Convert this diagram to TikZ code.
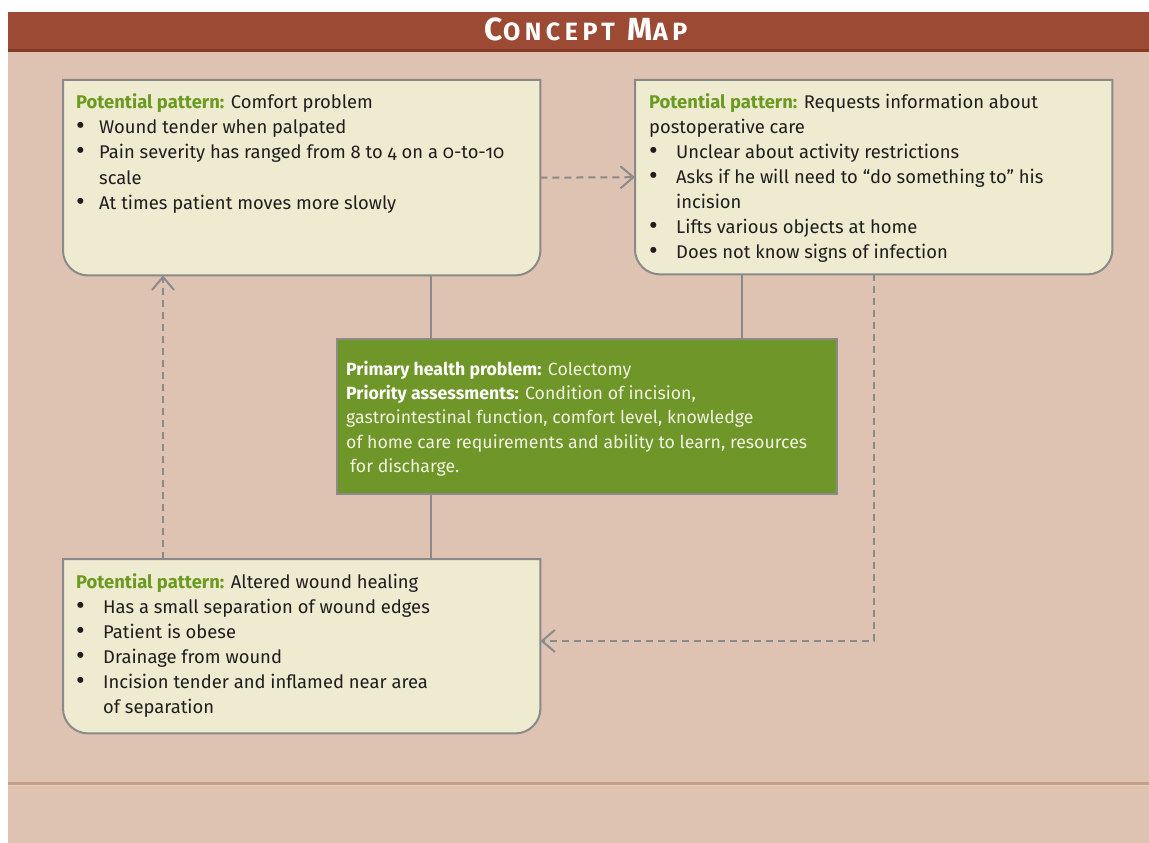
\documentclass[tikz,border=0pt]{standalone}
\usepackage{fontspec}
\setmainfont[Numbers=OldStyle]{Fira Sans}
\newfontfamily\titlefont[LetterSpace=18]{Fira Sans}
\usetikzlibrary{arrows.meta}

\definecolor{pagebg}{HTML}{DEC3B2}
\definecolor{headbar}{HTML}{9C4A33}
\definecolor{headedge}{HTML}{873A25}
\definecolor{cream}{HTML}{EEEBD0}
\definecolor{frame}{HTML}{8A8A8A}
\definecolor{coregreen}{HTML}{6F9628}
\definecolor{labgreen}{HTML}{6B9A20}
\definecolor{ink}{HTML}{1E1E1E}
\definecolor{coretext}{HTML}{F2F2E2}
\definecolor{rule}{HTML}{C6A08D}
\definecolor{rulelight}{HTML}{ECCDB8}

\newlength\bulletgap
\setlength\bulletgap{23pt}
\newcommand\lab[1]{{\bfseries\color{labgreen}#1}}
\newcommand\bigdot{\raisebox{-0.12ex}{\scalebox{1.45}{\textbullet}}}
\newcommand\itm[1]{\makebox[\bulletgap][l]{\bigdot}#1}
\newcommand\cont[1]{\hspace*{\bulletgap}#1}
\newcommand\bottomroundbox[1]{%
  \draw[frame line, fill=cream] (#1.north west) -- (#1.north east)
    -- ([yshift=25pt]#1.south east) arc[start angle=0,end angle=-90,radius=25pt]
    -- ([xshift=25pt]#1.south west) arc[start angle=-90,end angle=-180,radius=25pt]
    -- cycle;}

\tikzset{
  frame line/.style={draw=frame, line width=2pt},
  slot/.style={rectangle, draw=none, inner sep=0pt, anchor=north west},
  bodytext/.style={anchor=north west, inner sep=0pt, align=left, text=ink,
    font=\fontsize{18.4}{25.3}\selectfont},
  link/.style={draw=frame, line width=2pt},
  dlink/.style={draw=frame, line width=2pt, dash pattern=on 7pt off 5pt,
    -{Straight Barb[length=13pt,width=22pt,line width=2pt]}},
}

\begin{document}
\begin{tikzpicture}[x=1pt,y=-1pt]
\useasboundingbox (0,0) rectangle (1149,843);

% page background and header band
\fill[pagebg] (8,12) rectangle (1149,843);
\fill[headbar] (8,12) rectangle (1149,52);
\fill[headedge] (8,49.5) rectangle (1149,52);
\node[text=white, inner sep=0pt, anchor=base] (title) at (586,41)
  {\titlefont\bfseries{\fontsize{32}{32}\selectfont C}{\fontsize{25}{25}\selectfont ONCEPT}\hspace{13pt}{\fontsize{32}{32}\selectfont M}{\fontsize{25}{25}\selectfont AP}};

% footer rule
\fill[rule] (8,782) rectangle (1149,784.5);
\fill[rulelight] (8,784.5) rectangle (1149,785.5);

% frames of the four boxes
\node[slot, minimum width=477pt, minimum height=195pt] (comfort) at (63,80) {};
\node[slot, minimum width=477pt, minimum height=194pt] (teach) at (635,80) {};
\node[slot, minimum width=477pt, minimum height=174pt] (heal) at (63,559) {};
\node[slot, minimum width=500pt, minimum height=155pt, fill=coregreen,
      draw=frame, line width=2pt] (core) at (336,338) {};

\bottomroundbox{comfort}
\bottomroundbox{teach}
\bottomroundbox{heal}

% x positions of the vertical connectors
\coordinate (xL) at (431,0);
\coordinate (xR) at (742,0);
\coordinate (xU) at (163,0);
\coordinate (bend) at (874,641);

% solid links to the central problem
\draw[link] (comfort.south -| xL) -- (core.north -| xL);
\draw[link] (teach.south -| xR) -- (core.north -| xR);
\draw[link] (core.south -| xL) -- (heal.north -| xL);

% dashed relations between patterns
\draw[dlink] (comfort.east) -- (teach.west);
\draw[dlink] (teach.south -| bend) -- (bend) -- (heal.east |- bend);
\draw[dlink] (heal.north -| xU) -- (comfort.south -| xU);

% box texts (first baseline sits one strut below the anchor)
\node[bodytext] (comfortText) at (76,90.3) {%
  \strut\lab{Potential pattern:} Comfort problem\\
  \itm{Wound tender when palpated}\\
  \itm{Pain severity has ranged from 8 to 4 on a 0-to-10}\\
  \cont{scale}\\
  \itm{At times patient moves more slowly}};

\node[bodytext, font=\fontsize{18.4}{25}\selectfont\setlength\bulletgap{27pt}] (teachText) at (649,90.5) {%
  \strut\lab{Potential pattern:} Requests information about\\
  postoperative care\\
  \itm{Unclear about activity restrictions}\\
  \itm{Asks if he will need to “do something to” his}\\
  \cont{incision}\\
  \itm{Lifts various objects at home}\\
  \itm{Does not know signs of infection}};

\node[bodytext, text=coretext, font=\fontsize{17.7}{24.3}\selectfont] (coreText) at (346,358) {%
  \strut{\bfseries\color{white}Primary health problem:} Colectomy\\
  {\bfseries\color{white}Priority assessments:} Condition of incision,\\
  gastrointestinal function, comfort level, knowledge\\
  of home care requirements and ability to learn, resources\\
  \hspace*{4pt}for discharge.};

\node[bodytext, font=\fontsize{18.4}{25.1}\selectfont\setlength\bulletgap{27pt}] (healText) at (76,570.3) {%
  \strut\lab{Potential pattern:} Altered wound healing\\
  \itm{Has a small separation of wound edges}\\
  \itm{Patient is obese}\\
  \itm{Drainage from wound}\\
  \itm{Incision tender and inflamed near area}\\
  \cont{of separation}};
\end{tikzpicture}
\end{document}
